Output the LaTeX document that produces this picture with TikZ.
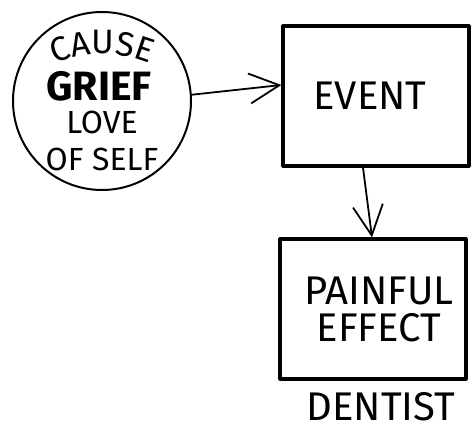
\documentclass[tikz,border=0pt]{standalone}
\usepackage{fontspec}
\newfontfamily\hand{Fira Sans}
\usetikzlibrary{arrows.meta,decorations.text}
\tikzset{
  x=1pt,y=1pt,
  boxnode/.style={draw,line width=3.2pt,line join=round,minimum width=186pt,minimum height=140pt,inner sep=0pt,align=center},
  bubble/.style={draw,circle,line width=2pt,minimum size=178pt,inner sep=0pt},
  conn/.style={line width=1.8pt,line cap=round,-{Straight Barb[length=30pt,width=30pt,line width=1.8pt]}},
  lbl/.style={inner sep=0pt,align=center},
  word/.style={inner sep=0pt},
}
\begin{document}
\begin{tikzpicture}
\useasboundingbox (0,0) rectangle (472,-429);
% cause bubble
\node[bubble] (cause) at (102,-101) {};
\path[decorate,decoration={text along path,text align=center,
  text={|\hand\fontsize{34}{34}\selectfont|CAUSE}}]
  (102,-176) ++(117:122) arc[start angle=117,end angle=63,radius=122];
\node[word,font=\hand\bfseries\fontsize{41}{41}\selectfont,anchor=base] (grief) at (99,-100) {GRIEF};
\node[lbl,font=\hand\fontsize{32}{37}\selectfont] (love) at (102,-141) {LOVE\\OF SELF};
% boxes
\node[boxnode] (event) at (376,-96) {};
\node[word,font=\hand\fontsize{40}{40}\selectfont,anchor=base] (eventtxt) at (370,-109) {EVENT};
\node[boxnode] (effect) at (373,-309) {};
\node[lbl,font=\hand\fontsize{40}{37}\selectfont] (effecttxt) at (379,-309) {PAINFUL\\EFFECT};
\node[word,font=\hand\fontsize{40}{40}\selectfont,anchor=base] (dentist) at (381,-420) {DENTIST};
% connectors
\draw[conn] (cause.4) -- ([yshift=11pt]event.west);
\draw[conn] ([xshift=-13pt]event.south) -- ([xshift=-1pt]effect.north);
\end{tikzpicture}
\end{document}
